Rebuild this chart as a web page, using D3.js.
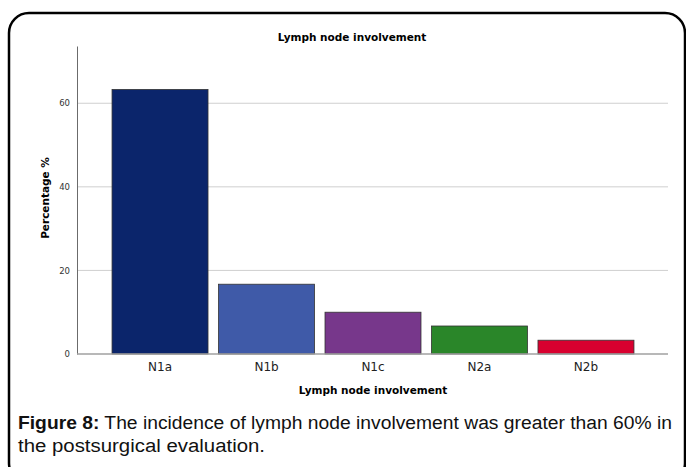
<!DOCTYPE html>
<html>
<head>
<meta charset="utf-8">
<script src="https://cdn.jsdelivr.net/npm/d3@7"></script>
<style>
  body { margin: 0; background: #fff; }
  svg { display: block; }
</style>
</head>
<body>
<svg id="chart" width="686" height="467"></svg>
<script>
// data
const categories = ["N1a", "N1b", "N1c", "N2a", "N2b"];
const percentages = [63.3, 16.7, 10.0, 6.7, 3.3];
const barColors = ["#0b256b", "#3f5aa8", "#77378b", "#2a8629", "#d8002f"];
const yTicks = [0, 20, 40, 60];

const width = 686, height = 467;
const plot = { left: 77, right: 669, top: 46, bottom: 354 };

const svg = d3.select("#chart");

// rounded frame round the figure
svg.append("rect")
  .attr("x", 9).attr("y", 13)
  .attr("width", 676).attr("height", 470)
  .attr("rx", 20)
  .attr("fill", "none")
  .attr("stroke", "#000")
  .attr("stroke-width", 2.5);

// scales
const x = d3.scaleBand()
  .domain(categories)
  .range([plot.left, plot.right])
  .paddingInner(0.0986)
  .paddingOuter(0.329);

const y = d3.scaleLinear()
  .domain([0, 73.7])
  .range([plot.bottom, plot.top]);

// grid lines
svg.append("g")
  .selectAll("line")
  .data(yTicks.filter(d => d > 0))
  .join("line")
  .attr("x1", plot.left).attr("x2", 668)
  .attr("y1", d => y(d)).attr("y2", d => y(d))
  .attr("stroke", "#cfcfcf")
  .attr("stroke-width", 1);

// y axis
const yAxis = d3.axisLeft(y).tickValues(yTicks).tickSize(0).tickPadding(7);
const yg = svg.append("g")
  .attr("transform", `translate(${plot.left},0)`)
  .call(yAxis);
yg.select(".domain").attr("stroke", "#6b6b6b");
yg.selectAll("text")
  .attr("font-family", "DejaVu Sans")
  .attr("font-size", 8.5)
  .attr("fill", "#333");

// bars
svg.append("g")
  .selectAll("rect")
  .data(categories)
  .join("rect")
  .attr("x", d => x(d))
  .attr("y", (d, i) => y(percentages[i]))
  .attr("width", x.bandwidth())
  .attr("height", (d, i) => y(0) - y(percentages[i]))
  .attr("fill", (d, i) => barColors[i])
  .attr("stroke", "#333")
  .attr("stroke-width", 0.8);

// x axis
const xAxis = d3.axisBottom(x).tickSize(0).tickPadding(8);
const xg = svg.append("g")
  .attr("transform", `translate(0,${plot.bottom})`)
  .call(xAxis);
xg.select(".domain")
  .attr("d", `M${plot.left},0H668`)
  .attr("stroke", "#a0a0a0")
  .attr("stroke-width", 1.5);
xg.selectAll("text")
  .attr("font-family", "DejaVu Sans")
  .attr("font-size", 12)
  .attr("fill", "#222");

// titles
svg.append("text")
  .attr("x", 352).attr("y", 41)
  .attr("text-anchor", "middle")
  .attr("font-family", "DejaVu Sans")
  .attr("font-weight", "bold")
  .attr("font-size", 10.5)
  .text("Lymph node involvement");

svg.append("text")
  .attr("x", 373).attr("y", 394)
  .attr("text-anchor", "middle")
  .attr("font-family", "DejaVu Sans")
  .attr("font-weight", "bold")
  .attr("font-size", 10.5)
  .text("Lymph node involvement");

svg.append("text")
  .attr("transform", "translate(49,198) rotate(-90)")
  .attr("text-anchor", "middle")
  .attr("font-family", "DejaVu Sans")
  .attr("font-weight", "bold")
  .attr("font-size", 10.5)
  .text("Percentage %");

// caption
const cap = svg.append("text")
  .attr("x", 18).attr("y", 429)
  .attr("font-family", "Liberation Sans")
  .attr("font-size", 18)
  .attr("fill", "#111");
cap.append("tspan").attr("font-weight", "bold").text("Figure 8:");
cap.append("tspan").text(" The incidence of lymph node involvement was greater than 60% in");
cap.attr("textLength", 654).attr("lengthAdjust", "spacingAndGlyphs");

svg.append("text")
  .attr("x", 18).attr("y", 452)
  .attr("font-family", "Liberation Sans")
  .attr("font-size", 18)
  .attr("fill", "#111")
  .attr("textLength", 247)
  .attr("lengthAdjust", "spacingAndGlyphs")
  .text("the postsurgical evaluation.");
</script>
</body>
</html>
